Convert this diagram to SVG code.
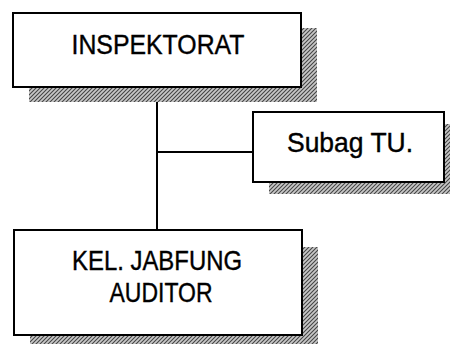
<svg xmlns="http://www.w3.org/2000/svg" width="450" height="344" viewBox="0 0 450 344">
<defs>
<pattern id="hatch" width="4" height="4" patternUnits="userSpaceOnUse">
<rect width="4" height="4" fill="#c8c8c8"/>
<path d="M0,4 L4,0 M-1,1 L1,-1 M3,5 L5,3" stroke="#444" stroke-width="1.1"/>
</pattern>
<style>
.shadow{fill:url(#hatch);stroke:none}
.box{fill:#fff;stroke:#000;stroke-width:2}
.lbl{font-family:"Liberation Sans",Arial,sans-serif;font-size:28px;fill:#000;stroke:#000;stroke-width:0.4;text-anchor:middle}
.conn{stroke:#000;stroke-width:2;fill:none}
</style>
</defs>
<rect width="450" height="344" fill="#fff"/>
<g id="connectors">
<line class="conn" x1="157" y1="87" x2="157" y2="230"/>
<line class="conn" x1="157" y1="152" x2="253" y2="152"/>
</g>
<g id="inspektorat">
<rect class="shadow" x="29" y="28" width="288" height="74"/>
<rect class="box" x="13" y="13" width="288" height="74"/>
<text class="lbl" x="158" y="54" textLength="173" lengthAdjust="spacingAndGlyphs">INSPEKTORAT</text>
</g>
<g id="subag">
<rect class="shadow" x="269" y="124" width="191" height="70"/>
<rect class="box" x="253" y="112" width="191" height="70"/>
<text class="lbl" x="350" y="152" textLength="126" lengthAdjust="spacingAndGlyphs">Subag TU.</text>
</g>
<g id="jabfung">
<rect class="shadow" x="30" y="247" width="288" height="110"/>
<rect class="box" x="14" y="230" width="288" height="105"/>
<text class="lbl" x="157" y="270" textLength="170" lengthAdjust="spacingAndGlyphs">KEL. JABFUNG</text>
<text class="lbl" x="161" y="302" textLength="103" lengthAdjust="spacingAndGlyphs">AUDITOR</text>
</g>
</svg>
